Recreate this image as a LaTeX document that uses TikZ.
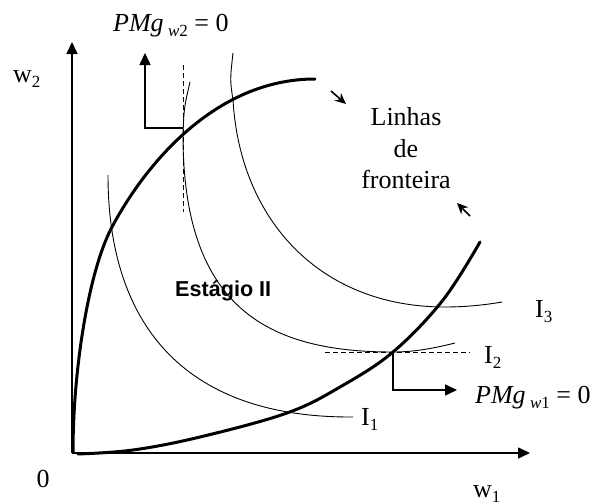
\documentclass[tikz,border=0pt]{standalone}
\usepackage{fontspec}
\setmainfont{Liberation Serif}
\newfontfamily\arialfont{Liberation Sans}
\usetikzlibrary{arrows.meta}
\newcommand\mysub[1]{\raisebox{-5pt}{\fontsize{17}{17}\selectfont #1}}
\begin{document}
\begin{tikzpicture}[x=1pt,y=-1pt,
  axis/.style={line width=1.6pt,-{Triangle[length=12pt,width=11pt]}},
  ridge/.style={line width=3pt,line cap=round},
  iso/.style={line width=0.9pt},
  guide/.style={line width=1.6pt,-{Triangle[length=12pt,width=11pt]}},
  dashline/.style={line width=1pt,dash pattern=on 5pt off 3pt},
  bound/.style={line width=1.6pt,-{Stealth[length=11pt,width=10pt]}},
  lbl/.style={font=\fontsize{26}{31}\selectfont, inner sep=0pt, anchor=base west},
  lblc/.style={font=\fontsize{26}{31}\selectfont, inner sep=0pt, anchor=base}
]
\useasboundingbox (0,0) rectangle (590,504);
% axes
\coordinate (O) at (72,453);
\coordinate (Ytop) at (72,42);
\coordinate (Xend) at (530,453);
\draw[axis] (O) -- (Ytop);
\draw[axis] (O) -- (Xend);
% ridge lines
\draw[ridge] (73,452) .. controls (73,370) and (88.5,271) .. (112,227)
             .. controls (145,165) and (215,79) .. (315,79);
\draw[ridge] plot[smooth,tension=0.6] coordinates {(78,454) (133,450) (200,437) (287,413) (340,387) (393,352) (443,300) (480,242)};
% isoquants
\draw[iso] (108,175) .. controls (108,320) and (180,418) .. (353,417);
\draw[iso] (190,82) .. controls (184,108) .. (183,135)
           .. controls (183,310) and (270,352) .. (393,352)
           .. controls (415,352) and (435,348) .. (455,343);
\draw[iso] (233,53) .. controls (230,80) .. (233,100)
           .. controls (240,220) and (320,307) .. (445,307)
           .. controls (465,307) and (485,305) .. (502,302);
% tangency points and guides
\coordinate (T2) at (183,128);
\coordinate (T1) at (393,352);
\coordinate (D2a) at (183,65);
\coordinate (D2b) at (183,212);
\coordinate (D1a) at (325,352);
\coordinate (D1b) at (470,352);
\draw[dashline] (D2a) -- (D2b);
\draw[dashline] (D1a) -- (D1b);
\coordinate (G2c) at (145,128);
\coordinate (G2t) at (145,53);
\coordinate (G1c) at (393,390);
\coordinate (G1t) at (457,390);
\draw[guide] (T2) -- (G2c) -- (G2t);
\draw[guide] (T1) -- (G1c) -- (G1t);
% boundary arrows
\coordinate (B1s) at (331,91);
\coordinate (B1e) at (346,104);
\coordinate (B2s) at (470,216);
\coordinate (B2e) at (457,203);
\draw[bound] (B1s) -- (B1e);
\draw[bound] (B2s) -- (B2e);
% labels
\node[lbl] (pmg2) at (113,31) {\textit{PMg}\,\mysub{\textit{w}2}\ = 0};
\node[lbl] (pmg1) at (475,403) {\textit{PMg}\,\mysub{\textit{w}1}\ = 0};
\node[lbl] (w2) at (13,82) {w\mysub{2}};
\node[lbl] (w1) at (473,497) {w\mysub{1}};
\node[lblc] (zero) at (43,487) {0};
\node[lbl] (i1) at (361,425) {I\mysub{1}};
\node[lbl] (i2) at (484,363) {I\mysub{2}};
\node[lbl] (i3) at (535,317) {I\mysub{3}};
\node[lblc] (l1) at (406,125) {Linhas};
\node[lblc] (l2) at (406,157) {de};
\node[lblc] (l3) at (406,188) {fronteira};
\node[inner sep=0pt,anchor=base west,font=\arialfont\bfseries\fontsize{21.6}{26}\selectfont] (st) at (175,296) {Estágio II};
\end{tikzpicture}
\end{document}
